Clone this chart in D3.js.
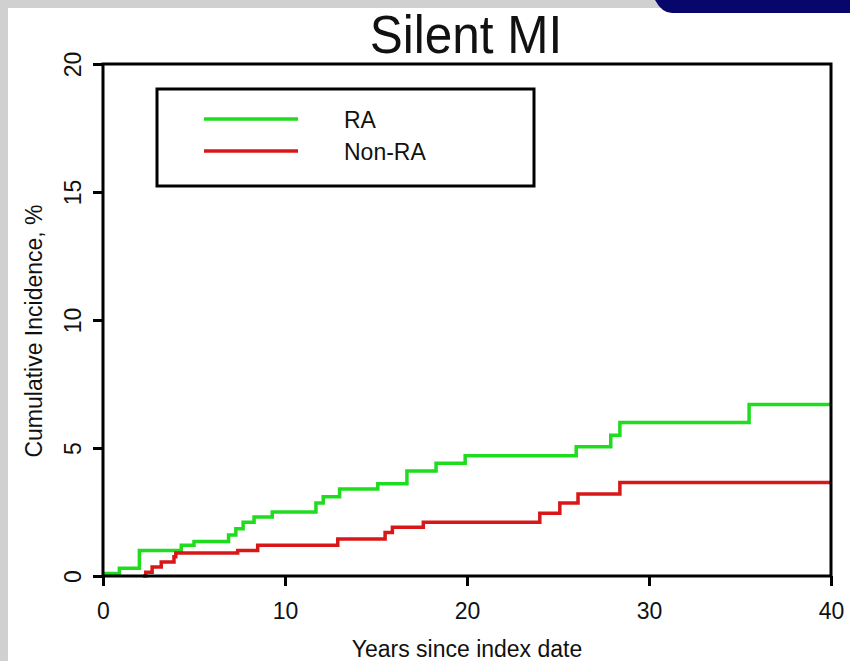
<!DOCTYPE html>
<html>
<head>
<meta charset="utf-8">
<script src="https://d3js.org/d3.v7.min.js"></script>
<style>
body { margin: 0; background: #fff; }
svg text { font-family: "Liberation Sans", Arial, Helvetica, sans-serif; fill: #111; }
</style>
</head>
<body>
<svg id="chart" width="850" height="661"></svg>
<script>
// data (years, cumulative incidence %)
var raTimes = [0, 0.9, 2.0, 4.3, 5.0, 6.9, 7.3, 7.7, 8.3, 9.3, 11.7, 12.1, 13.0, 15.1, 16.7, 18.3, 19.9, 26.0, 27.9, 28.4, 35.5, 40];
var raValues = [0.1, 0.3, 1.0, 1.2, 1.35, 1.6, 1.85, 2.1, 2.3, 2.5, 2.85, 3.1, 3.4, 3.6, 4.1, 4.4, 4.7, 5.05, 5.5, 6.0, 6.7, 6.7];
var nonRaTimes = [2.2, 2.35, 2.7, 3.2, 3.9, 4.0, 7.4, 8.5, 12.9, 15.5, 15.9, 17.6, 24.0, 25.1, 26.1, 28.4, 40];
var nonRaValues = [0, 0.15, 0.35, 0.55, 0.75, 0.9, 1.0, 1.2, 1.45, 1.7, 1.9, 2.1, 2.45, 2.85, 3.2, 3.65, 3.65];
var xTicks = [0, 10, 20, 30, 40];
var yTicks = [0, 5, 10, 15, 20];
var seriesNames = ["RA", "Non-RA"];
var seriesColors = ["#1fdc1f", "#d81818"];

var svg = d3.select("#chart");

// slide frame: grey band top / left, navy tab top right
svg.append("rect").attr("x", 0).attr("y", 0).attr("width", 850).attr("height", 661).attr("fill", "#d0d0d0");
svg.append("rect").attr("x", 8).attr("y", 8).attr("width", 842).attr("height", 653).attr("fill", "#fff");
svg.append("path")
  .attr("d", "M655,0 L850,0 L850,13 L672,13 Q662,13 655,0 Z")
  .attr("fill", "#06066b");

var plotLeft = 103, plotRight = 831, plotTop = 64, plotBottom = 576;
var x = d3.scaleLinear().domain([0, 40]).range([plotLeft, plotRight]);
var y = d3.scaleLinear().domain([0, 20]).range([plotBottom, plotTop]);

// title (source text is a bit tall and narrow)
svg.append("text")
  .attr("transform", "translate(466,53) scale(0.97,1.05)")
  .attr("text-anchor", "middle")
  .style("font-size", "51px")
  .text("Silent MI");

// curves
var line = d3.line()
  .x(function(d) { return x(d[0]); })
  .y(function(d) { return y(d[1]); })
  .curve(d3.curveStepAfter);

var series = [
  d3.zip(raTimes, raValues),
  d3.zip(nonRaTimes, nonRaValues)
];

svg.selectAll("path.curve")
  .data(series)
  .enter().append("path")
  .attr("class", "curve")
  .attr("d", line)
  .attr("fill", "none")
  .attr("stroke", function(d, i) { return seriesColors[i]; })
  .attr("stroke-width", 3.5);

// box
svg.append("rect")
  .attr("x", plotLeft).attr("y", plotTop)
  .attr("width", plotRight - plotLeft).attr("height", plotBottom - plotTop)
  .attr("fill", "none").attr("stroke", "#000").attr("stroke-width", 3);

// axes
var xAxis = svg.append("g")
  .attr("transform", "translate(0," + plotBottom + ")")
  .call(d3.axisBottom(x).tickValues(xTicks).tickSize(10).tickSizeOuter(0));
xAxis.select(".domain").remove();
xAxis.selectAll("line").attr("stroke", "#000").attr("stroke-width", 3);
xAxis.selectAll("text")
  .attr("y", 0).attr("dy", null)
  .attr("transform", "translate(0,43) scale(1,1.08)")
  .style("font-size", "23px").attr("fill", "#111");

var yAxis = svg.append("g")
  .attr("transform", "translate(" + plotLeft + ",0)")
  .call(d3.axisLeft(y).tickValues(yTicks).tickSize(10).tickSizeOuter(0));
yAxis.select(".domain").remove();
yAxis.selectAll("line").attr("stroke", "#000").attr("stroke-width", 3);
yAxis.selectAll("text")
  .attr("x", null).attr("dy", null)
  .attr("text-anchor", "middle")
  .attr("transform", "translate(-22,0) rotate(-90)")
  .style("font-size", "23px").attr("fill", "#111");

// axis labels
svg.append("text")
  .attr("transform", "translate(" + ((plotLeft + plotRight) / 2) + ",657) scale(1,1.08)")
  .attr("text-anchor", "middle")
  .style("font-size", "23px")
  .text("Years since index date");

svg.append("text")
  .attr("transform", "translate(42,331) rotate(-90)")
  .attr("text-anchor", "middle")
  .style("font-size", "23px")
  .text("Cumulative Incidence, %");

// legend
var legend = svg.append("g");
legend.append("rect")
  .attr("x", 157).attr("y", 89).attr("width", 377).attr("height", 97)
  .attr("fill", "#fff").attr("stroke", "#000").attr("stroke-width", 3);
seriesNames.forEach(function(name, i) {
  var ly = 119 + i * 32;
  legend.append("line")
    .attr("x1", 204).attr("x2", 298).attr("y1", ly).attr("y2", ly)
    .attr("stroke", seriesColors[i]).attr("stroke-width", 3.5);
  legend.append("text")
    .attr("transform", "translate(344," + (ly + 9) + ") scale(1,1.08)")
    .style("font-size", "23px")
    .text(name);
});
</script>
</body>
</html>
